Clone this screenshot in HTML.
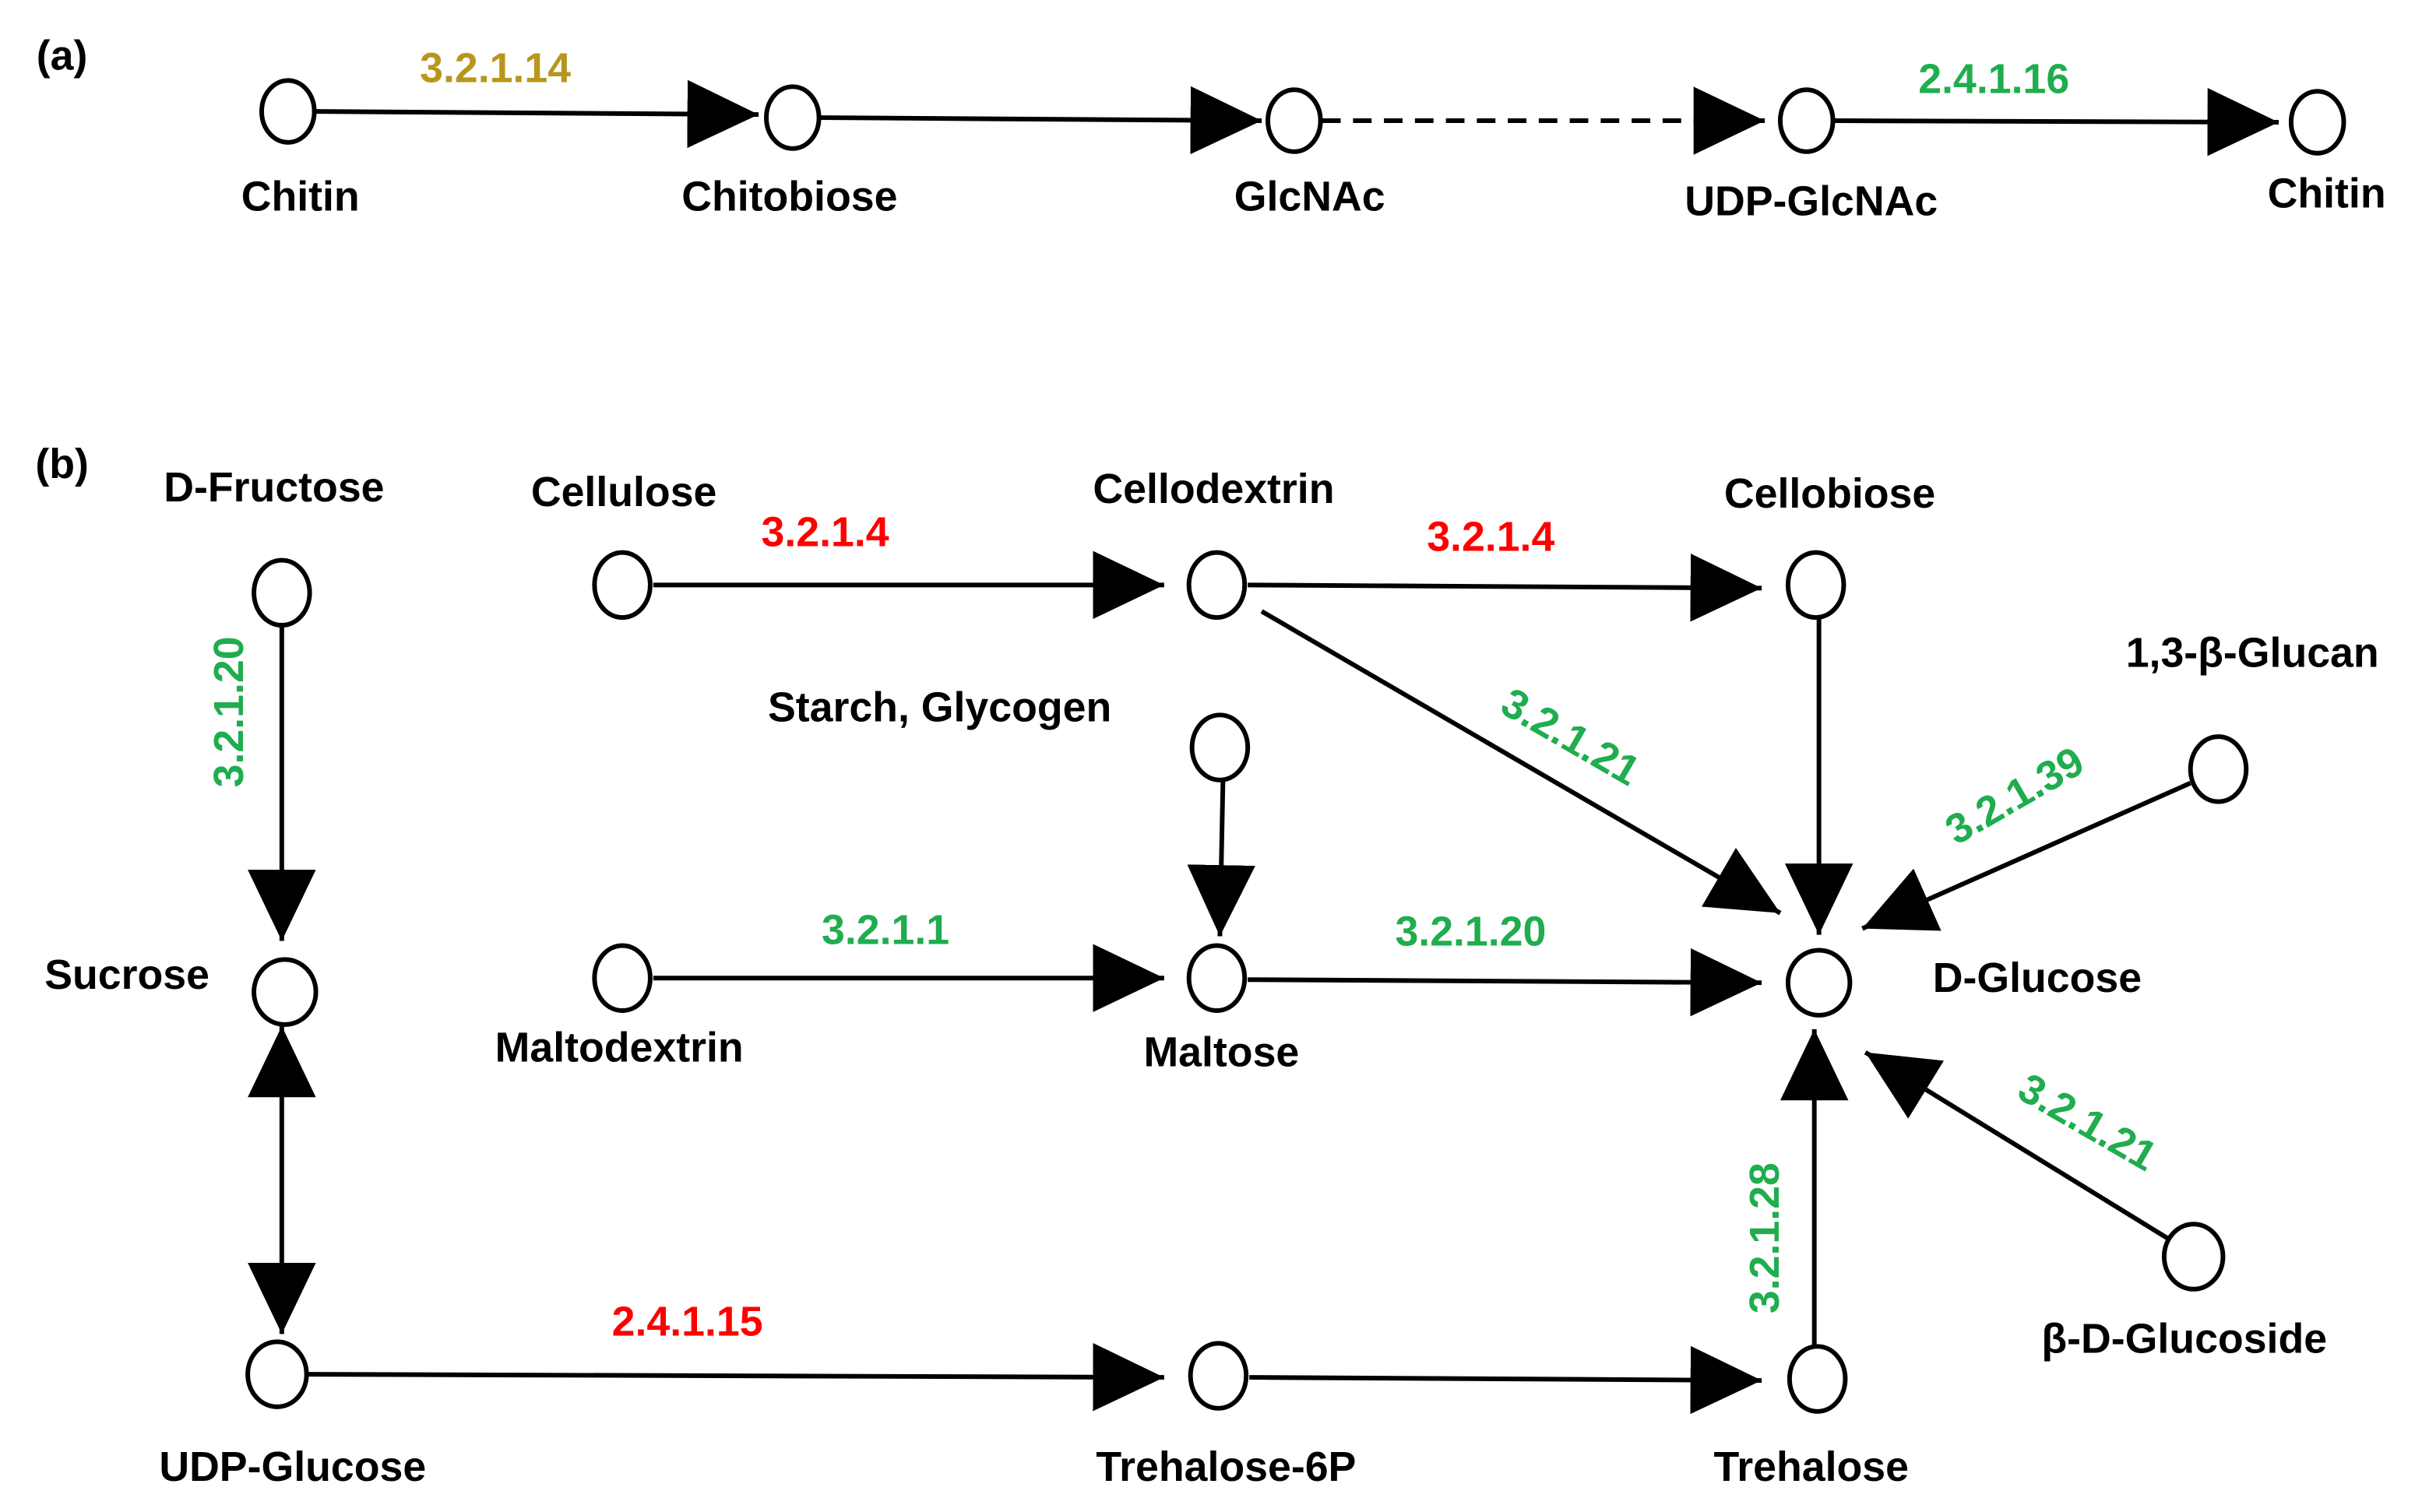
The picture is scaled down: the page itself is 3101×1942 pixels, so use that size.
<!DOCTYPE html>
<html><head><meta charset="utf-8"><style>
html,body{margin:0;padding:0;background:#fff;}
svg{display:block;}
text{font-family:"Liberation Sans",Arial,sans-serif;font-weight:bold;font-size:27px;}
.k{fill:#000}.r{fill:#ff0000}.g{fill:#1fad4e}.o{fill:#b8961e}
</style></head><body>
<svg width="3101" height="1942" viewBox="0 0 1560 977" xmlns="http://www.w3.org/2000/svg">
<defs>
<marker id="ah" markerUnits="userSpaceOnUse" markerWidth="50" markerHeight="50" refX="46" refY="22" orient="auto-start-reverse">
<path d="M0,0 L46,22 L0,44 Z" fill="#000"/>
</marker>
</defs>
<g stroke="#000" stroke-width="3" fill="none">
<!-- (a) -->
<line x1="204" y1="72" x2="490" y2="74" marker-end="url(#ah)"/>
<line x1="530" y1="76" x2="815" y2="78" marker-end="url(#ah)"/>
<line x1="854" y1="78" x2="1140" y2="78" stroke-dasharray="12,8" marker-end="url(#ah)"/>
<line x1="1185" y1="78" x2="1472" y2="79" marker-end="url(#ah)"/>
<!-- (b) -->
<line x1="182" y1="404" x2="182" y2="608" marker-end="url(#ah)"/>
<line x1="422" y1="378" x2="752" y2="378" marker-end="url(#ah)"/>
<line x1="806" y1="378" x2="1138" y2="380" marker-end="url(#ah)"/>
<line x1="815" y1="395" x2="1150" y2="590" marker-end="url(#ah)"/>
<line x1="1175" y1="400" x2="1175" y2="604" marker-end="url(#ah)"/>
<line x1="1415" y1="506" x2="1203" y2="600" marker-end="url(#ah)"/>
<line x1="790" y1="504" x2="788" y2="605" marker-end="url(#ah)"/>
<line x1="422" y1="632" x2="752" y2="632" marker-end="url(#ah)"/>
<line x1="806" y1="633" x2="1138" y2="635" marker-end="url(#ah)"/>
<line x1="1400" y1="800" x2="1205" y2="680" marker-end="url(#ah)"/>
<line x1="1172" y1="870" x2="1172" y2="665" marker-end="url(#ah)"/>
<line x1="182" y1="663" x2="182" y2="862" marker-start="url(#ah)" marker-end="url(#ah)"/>
<line x1="199" y1="888" x2="752" y2="890" marker-end="url(#ah)"/>
<line x1="807" y1="890" x2="1138" y2="892" marker-end="url(#ah)"/>
</g>
<g stroke="#000" stroke-width="3" fill="#fff">
<ellipse cx="186" cy="72" rx="17" ry="20"/>
<ellipse cx="512" cy="76" rx="17" ry="20"/>
<ellipse cx="836" cy="78" rx="17" ry="20"/>
<ellipse cx="1167" cy="78" rx="17" ry="20"/>
<ellipse cx="1497" cy="79" rx="17" ry="20"/>
<ellipse cx="182" cy="383" rx="18" ry="21"/>
<ellipse cx="402" cy="378" rx="18" ry="21"/>
<ellipse cx="786" cy="378" rx="18" ry="21"/>
<ellipse cx="1173" cy="378" rx="18" ry="21"/>
<ellipse cx="1433" cy="497" rx="18" ry="21"/>
<ellipse cx="788" cy="483" rx="18" ry="21"/>
<ellipse cx="184" cy="641" rx="20" ry="21"/>
<ellipse cx="402" cy="632" rx="18" ry="21"/>
<ellipse cx="786" cy="632" rx="18" ry="21"/>
<ellipse cx="1175" cy="635" rx="20" ry="21"/>
<ellipse cx="1417" cy="812" rx="19" ry="21"/>
<ellipse cx="179" cy="888" rx="19" ry="21"/>
<ellipse cx="787" cy="889" rx="18" ry="21"/>
<ellipse cx="1174" cy="891" rx="18" ry="21"/>
</g>
<g text-anchor="middle">
<text class="k" x="40" y="45" font-size="30">(a)</text>
<text class="k" x="40" y="309" font-size="30">(b)</text>
<text class="o" x="320" y="53">3.2.1.14</text>
<text class="g" x="1288" y="60">2.4.1.16</text>
<text class="k" x="194" y="136">Chitin</text>
<text class="k" x="510" y="136">Chitobiose</text>
<text class="k" x="846" y="136">GlcNAc</text>
<text class="k" x="1170" y="139">UDP-GlcNAc</text>
<text class="k" x="1503" y="134">Chitin</text>

<text class="r" x="533" y="353">3.2.1.4</text>
<text class="r" x="963" y="356">3.2.1.4</text>
<text class="r" x="444" y="863">2.4.1.15</text>
<text class="g" transform="translate(157,460) rotate(-90)">3.2.1.20</text>
<text class="g" transform="translate(1010,484) rotate(30)">3.2.1.21</text>
<text class="g" transform="translate(1306,522) rotate(-30)">3.2.1.39</text>
<text class="g" x="572" y="610">3.2.1.1</text>
<text class="g" x="950" y="611">3.2.1.20</text>
<text class="g" transform="translate(1344,733) rotate(30)">3.2.1.21</text>
<text class="g" transform="translate(1149,800) rotate(-90)">3.2.1.28</text>

<text class="k" x="177" y="324">D-Fructose</text>
<text class="k" x="403" y="327">Cellulose</text>
<text class="k" x="784" y="325">Cellodextrin</text>
<text class="k" x="1182" y="328">Cellobiose</text>
<text class="k" x="1455" y="431">1,3-β-Glucan</text>
<text class="k" x="607" y="466">Starch, Glycogen</text>
<text class="k" x="82" y="639">Sucrose</text>
<text class="k" x="1316" y="641">D-Glucose</text>
<text class="k" x="400" y="686">Maltodextrin</text>
<text class="k" x="789" y="689">Maltose</text>
<text class="k" x="1411" y="874">β-D-Glucoside</text>
<text class="k" x="189" y="957">UDP-Glucose</text>
<text class="k" x="792" y="957">Trehalose-6P</text>
<text class="k" x="1170" y="957">Trehalose</text>
</g>
</svg>
</body></html>
